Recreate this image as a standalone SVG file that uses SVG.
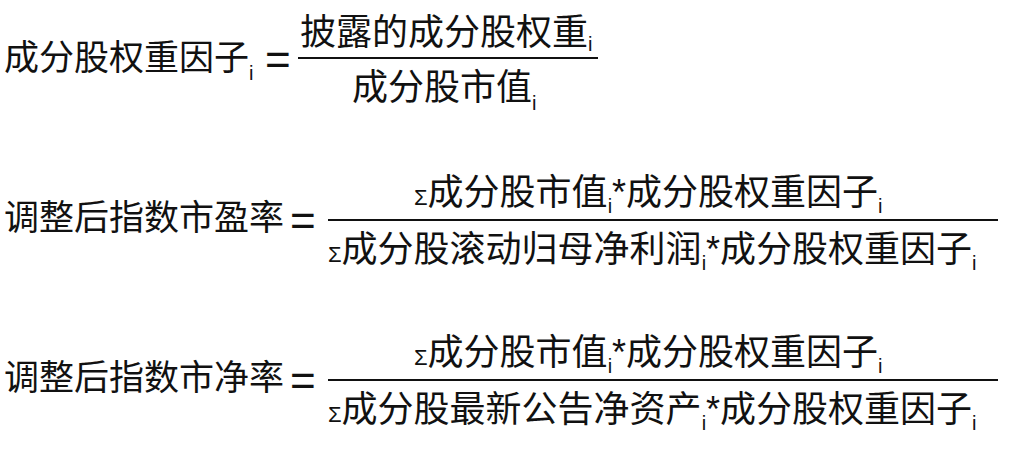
<svg xmlns="http://www.w3.org/2000/svg" width="1020" height="452" viewBox="0 0 1020 452">
<style>
text{font-family:"Liberation Sans","Noto Sans CJK SC",sans-serif;font-size:35px;fill:#111}
.f{font-size:36px}
.s{font-size:20px}
.g{font-size:22px}
.e{font-size:44px}
line{stroke:#111;stroke-width:2}
</style>
<rect width="1020" height="452" fill="#fff"/>
<g id="f1">
<text x="4" y="70">成分股权重因子<tspan class="s" dy="10">i</tspan></text>
<text class="e" x="265" y="75">=</text>
<text class="f" x="300" y="45">披露的成分股权重<tspan class="s" dy="6">i</tspan></text>
<line x1="298" y1="58" x2="598" y2="58"/>
<text class="f" x="352" y="100">成分股市值<tspan class="s" dy="10">i</tspan></text>
</g>
<g id="f2">
<text x="4" y="230">调整后指数市盈率</text>
<text class="e" x="290" y="236">=</text>
<text class="f" x="414" y="205"><tspan class="g">Σ</tspan>成分股市值<tspan class="s" dy="8">i</tspan><tspan dy="-8">*成分股权重因子</tspan><tspan class="s" dy="8">i</tspan></text>
<line x1="328" y1="220" x2="998" y2="220"/>
<text class="f" x="328" y="262"><tspan class="g">Σ</tspan>成分股滚动归母净利润<tspan class="s" dy="8">i</tspan><tspan dy="-8">*成分股权重因子</tspan><tspan class="s" dy="8">i</tspan></text>
</g>
<g id="f3">
<text x="4" y="390">调整后指数市净率</text>
<text class="e" x="290" y="396">=</text>
<text class="f" x="414" y="365"><tspan class="g">Σ</tspan>成分股市值<tspan class="s" dy="8">i</tspan><tspan dy="-8">*成分股权重因子</tspan><tspan class="s" dy="8">i</tspan></text>
<line x1="328" y1="380" x2="998" y2="380"/>
<text class="f" x="328" y="422"><tspan class="g">Σ</tspan>成分股最新公告净资产<tspan class="s" dy="8">i</tspan><tspan dy="-8">*成分股权重因子</tspan><tspan class="s" dy="8">i</tspan></text>
</g>
</svg>
